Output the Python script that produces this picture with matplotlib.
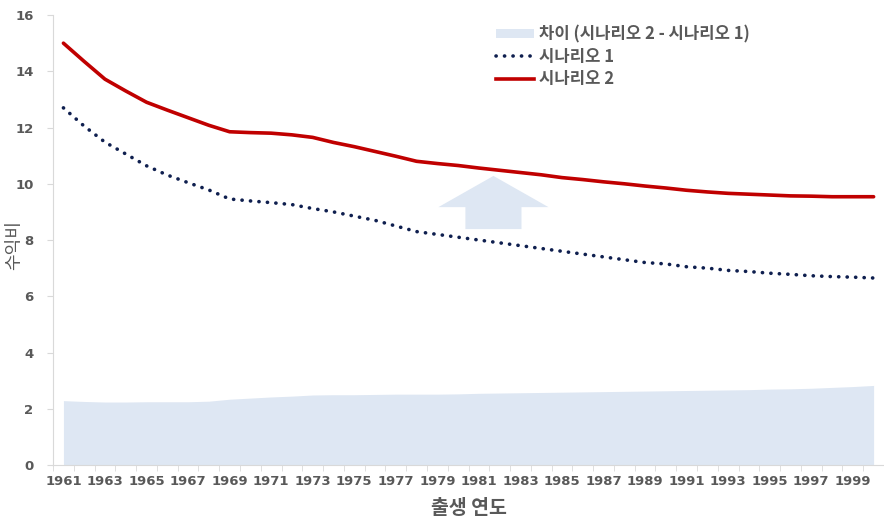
import matplotlib
matplotlib.use('Agg')
import matplotlib.pyplot as plt
from matplotlib.patches import FancyArrow, Patch
from matplotlib.lines import Line2D

plt.rcParams['font.family'] = ['Noto Sans CJK KR', 'DejaVu Sans']

# birth years and benefit ratios
years = list(range(1961, 2001))

scenario1 = [12.70, 12.05, 11.48, 11.06, 10.64, 10.31, 10.04, 9.78, 9.46, 9.39,
             9.33, 9.26, 9.12, 9.00, 8.85, 8.70, 8.50, 8.30, 8.20, 8.10,
             8.00, 7.90, 7.80, 7.70, 7.60, 7.50, 7.40, 7.30, 7.20, 7.15,
             7.05, 7.00, 6.92, 6.88, 6.82, 6.78, 6.73, 6.70, 6.68, 6.65]

scenario2 = [15.00, 14.35, 13.72, 13.30, 12.90, 12.62, 12.35, 12.08, 11.85, 11.82,
             11.80, 11.74, 11.65, 11.47, 11.32, 11.15, 10.98, 10.80, 10.72, 10.65,
             10.56, 10.48, 10.40, 10.32, 10.22, 10.15, 10.07, 10.00, 9.92, 9.85,
             9.77, 9.71, 9.66, 9.63, 9.60, 9.57, 9.56, 9.54, 9.54, 9.54]

gap = [2.29, 2.26, 2.24, 2.24, 2.25, 2.25, 2.25, 2.27, 2.34, 2.38,
       2.42, 2.45, 2.49, 2.50, 2.50, 2.51, 2.52, 2.52, 2.52, 2.53,
       2.55, 2.56, 2.57, 2.58, 2.59, 2.60, 2.61, 2.62, 2.63, 2.64,
       2.65, 2.66, 2.67, 2.68, 2.70, 2.71, 2.73, 2.76, 2.79, 2.83]

label_years = list(range(1961, 2000, 2))

fill_c = '#dee7f3'
navy = '#0f1f4f'
red = '#c00000'
grey = '#595959'

fig = plt.figure(figsize=(8.84, 5.19), dpi=100)
ax = fig.add_axes([0.06, 0.104, 0.94, 0.867])

ax.fill_between(years, 0, gap, color=fill_c, lw=0)
ax.plot(years, scenario1, color=navy, lw=2.6, linestyle=(0, (0.05, 2.3)),
        dash_capstyle='round')
ax.plot(years, scenario2, color=red, lw=2.6, solid_capstyle='round')

# up arrow between the two scenarios
ax.add_patch(FancyArrow(1981.7, 8.39, 0, 1.89, width=2.7, head_width=5.3,
                        head_length=1.11, length_includes_head=True,
                        color=fill_c, lw=0))

ax.set_xlim(1960.5, 2000.5)
ax.set_ylim(0, 16)
ax.set_yticks(range(0, 17, 2))
ax.set_xticks(label_years)
ax.set_xticks([y - 0.5 for y in years] + [2000.5], minor=True)
ax.tick_params(axis='x', which='major', length=0, pad=7)
ax.tick_params(axis='x', which='minor', length=4, color='#d9d9d9')
ax.tick_params(axis='y', length=4, color='#d9d9d9', pad=10)
for lab in ax.get_xticklabels() + ax.get_yticklabels():
    lab.set_family('DejaVu Sans')
    lab.set_fontweight('bold')
    lab.set_color(grey)
    lab.set_fontsize(9.5)

for s in ['top', 'right']:
    ax.spines[s].set_visible(False)
for s in ['left', 'bottom']:
    ax.spines[s].set_color('#d9d9d9')

fig.text(14 / 884, 1 - 245 / 519, '수익비', rotation=90, fontsize=13,
         color=grey, ha='center', va='center')
ax.set_xlabel('출생 연도', fontsize=14, color=grey, fontweight='bold', labelpad=8)

handles = [Patch(facecolor=fill_c, edgecolor='none'),
           Line2D([], [], color=navy, lw=2.6, linestyle=(0, (0.05, 2.3)),
                  dash_capstyle='round'),
           Line2D([], [], color=red, lw=2.6)]
labels = ['차이 (시나리오 2 - 시나리오 1)', '시나리오 1', '시나리오 2']
leg = ax.legend(handles, labels, loc='upper left', bbox_to_anchor=(0.515, 1.01),
                frameon=False, fontsize=12, handlelength=2.3, handleheight=0.5,
                handletextpad=0.3, labelspacing=0.25)
for t in leg.get_texts():
    t.set_color(grey)
    t.set_fontweight('bold')

fig.savefig('out.png', dpi=100)
